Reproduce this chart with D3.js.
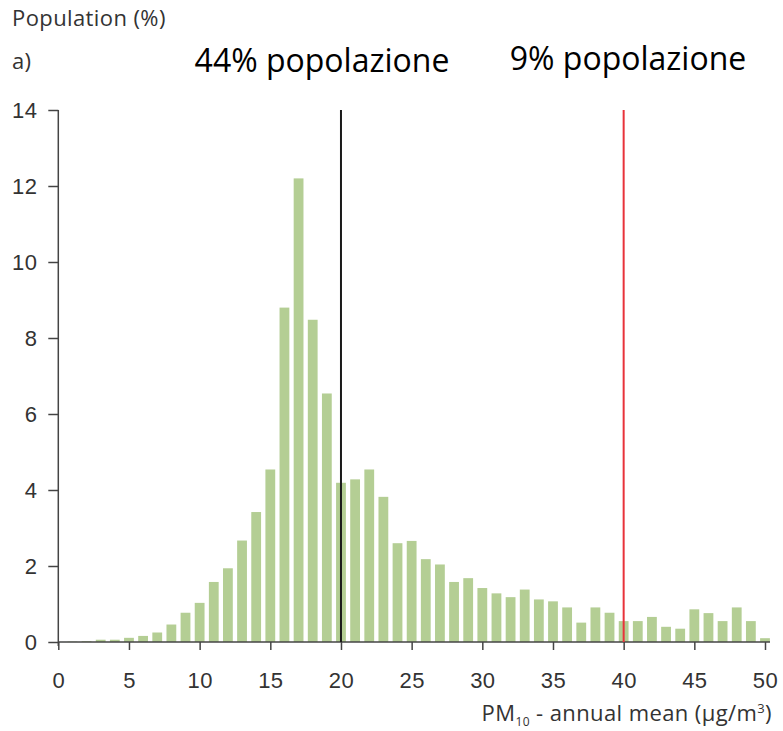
<!DOCTYPE html>
<meta charset="utf-8">
<title>PM10 population distribution</title>
<style>
body { margin: 0; background: #fff; }
svg { display: block; font-family: "Open Sans", sans-serif; }
.axis text { font-size: 22px; fill: #333; letter-spacing: 0.4px; }
.axis line { stroke: #444; stroke-width: 1.5; }
.lbl { font-size: 22px; fill: #333; letter-spacing: 0.4px; }
</style>
<body>
<script src="https://d3js.org/d3.v7.min.js"></script>
<script>
// PM10 annual mean classes (ug/m3) and share of population (%)
var pmClasses = [1, 2, 3, 4, 5, 6, 7, 8, 9, 10,
                 11, 12, 13, 14, 15, 16, 17, 18, 19, 20,
                 21, 22, 23, 24, 25, 26, 27, 28, 29, 30,
                 31, 32, 33, 34, 35, 36, 37, 38, 39, 40,
                 41, 42, 43, 44, 45, 46, 47, 48, 49, 50];
var popShare = [0.01, 0.02, 0.06, 0.06, 0.11, 0.16, 0.25, 0.46, 0.77, 1.03,
                1.58, 1.94, 2.67, 3.42, 4.54, 8.80, 12.2, 8.48, 6.54, 4.19,
                4.28, 4.54, 3.82, 2.60, 2.66, 2.18, 2.04, 1.58, 1.68, 1.42,
                1.28, 1.18, 1.38, 1.12, 1.07, 0.91, 0.51, 0.91, 0.77, 0.55,
                0.55, 0.66, 0.40, 0.35, 0.86, 0.76, 0.55, 0.91, 0.55, 0.10];
var xTicks = [0, 5, 10, 15, 20, 25, 30, 35, 40, 45, 50];
var yTicks = [0, 2, 4, 6, 8, 10, 12, 14];
// reference lines and the labels above them
var limitValues = [20, 40];
var limitColors = ["#1a1a1a", "#e8333a"];
var limitLabels = ["44% popolazione", "9% popolazione"];

var width = 783, height = 731;

var svg = d3.select("body").append("svg")
    .attr("width", width)
    .attr("height", height);

var x = d3.scaleLinear().domain([0, 50]).range([58.3, 765]);
var y = d3.scaleLinear().domain([0, 14]).range([642, 110]);
var barW = 9.8;

// bars
svg.append("g").selectAll("rect")
    .data(pmClasses)
    .enter().append("rect")
    .attr("x", function(d) { return x(d) - barW / 2; })
    .attr("y", function(d, i) { return y(popShare[i]); })
    .attr("width", barW)
    .attr("height", function(d, i) { return y(0) - y(popShare[i]); })
    .attr("fill", "#b4ce94");

// y axis
var yAxis = svg.append("g")
    .attr("class", "axis")
    .attr("transform", "translate(" + x(0) + ",0)")
    .call(d3.axisLeft(y).tickValues(yTicks).tickSize(10).tickPadding(11));
yAxis.select(".domain").remove();
svg.append("line")
    .attr("x1", x(0)).attr("x2", x(0))
    .attr("y1", y(14)).attr("y2", y(0) + 4)
    .attr("stroke", "#444").attr("stroke-width", 1.5);

// x axis
var xAxis = svg.append("g")
    .attr("class", "axis")
    .attr("transform", "translate(0," + y(0) + ")")
    .call(d3.axisBottom(x).tickValues(xTicks).tickSize(8).tickPadding(22));
xAxis.select(".domain").remove();
svg.append("line")
    .attr("x1", x(0)).attr("x2", x(50) + 5)
    .attr("y1", y(0)).attr("y2", y(0))
    .attr("stroke", "#444").attr("stroke-width", 1.5);

// limit lines
svg.append("g").selectAll("line")
    .data(limitValues)
    .enter().append("line")
    .attr("x1", function(d) { return x(d); })
    .attr("x2", function(d) { return x(d); })
    .attr("y1", y(14))
    .attr("y2", y(0))
    .attr("stroke", function(d, i) { return limitColors[i]; })
    .attr("stroke-width", 2);

// labels above the lines
svg.append("text")
    .attr("x", 322).attr("y", 72)
    .attr("text-anchor", "middle")
    .style("font-size", "32px").style("fill", "#000")
    .text(limitLabels[0]);
svg.append("text")
    .attr("x", 628).attr("y", 70)
    .attr("text-anchor", "middle")
    .style("font-size", "32px").style("fill", "#000")
    .text(limitLabels[1]);

// axis titles
svg.append("text")
    .attr("class", "lbl")
    .attr("x", 12).attr("y", 26)
    .text("Population (%)");
svg.append("text")
    .attr("class", "lbl")
    .attr("x", 12).attr("y", 69)
    .text("a)");

var xl = svg.append("text")
    .attr("class", "lbl")
    .attr("x", 772).attr("y", 721)
    .attr("text-anchor", "end");
xl.append("tspan").text("PM");
xl.append("tspan").attr("dy", 5).style("font-size", "12px").text("10");
xl.append("tspan").attr("dy", -5).text(" - annual mean (\u00b5g/m");
xl.append("tspan").attr("dy", -8).style("font-size", "13px").text("3");
xl.append("tspan").attr("dy", 8).text(")");
</script>
</body>
